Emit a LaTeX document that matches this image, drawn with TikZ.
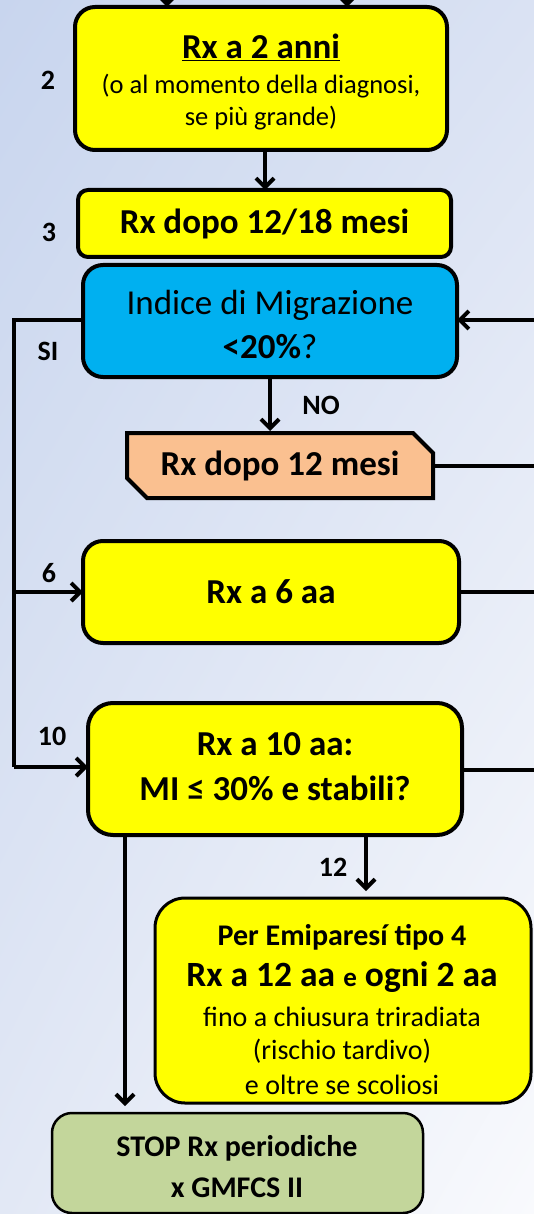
\documentclass[tikz,border=0pt]{standalone}
\usepackage{fontspec}
\setmainfont{Carlito}
\usetikzlibrary{arrows.meta,shapes.misc,calc,shadings}
\definecolor{bgUL}{RGB}{200,213,238}
\definecolor{bgUR}{RGB}{218,226,243}
\definecolor{bgLL}{RGB}{226,232,245}
\definecolor{bgLR}{RGB}{249,250,253}
\definecolor{ylw}{RGB}{255,255,0}
\definecolor{blu}{RGB}{0,176,240}
\definecolor{org}{RGB}{250,192,144}
\definecolor{grn}{RGB}{195,214,155}
\newcommand{\fsz}[1]{\fontsize{#1pt}{#1pt}\selectfont}
\tikzset{
  box/.style={draw=black, line width=4pt, rounded corners=20pt, inner sep=0pt, align=center, outer sep=0pt},
  conn/.style={draw=black, line width=4pt},
  arr/.style={conn, -{Straight Barb[length=9pt,width=18pt,line width=4pt]}},
  lbl/.style={font=\bfseries\fsz{28}, inner sep=0pt},
}
\begin{document}
\begin{tikzpicture}[x=1pt,y=-1pt]
\useasboundingbox (0,0) rectangle (534,1214);
\clip (0,0) rectangle (534,1214);
\shade[upper left=bgUL, upper right=bgUR, lower left=bgLL, lower right=bgLR] (0,0) rectangle (534,1214);

% nodes
\node[box, fill=ylw, minimum width=372pt, minimum height=143pt] (b1) at (261,78.5) {};
\node[font=\bfseries\fsz{35}, inner sep=0pt] (t1a) at (261,47) {\underline{Rx a 2 anni}};
\node[font=\fsz{26.5}, align=center, inner sep=0pt] (t1b) at (261,102) {(o al momento della diagnosi,\\[6pt] se più grande)};

\node[box, fill=ylw, rounded corners=10pt, minimum width=373pt, minimum height=67pt, font=\bfseries\fsz{35}] (b2) at (264.5,223.5) {Rx dopo 12/18 mesi};

\node[box, fill=blu, minimum width=374pt, minimum height=112pt, font=\fsz{35}] (b3) at (270,321) {};
\node[font=\fsz{35}, inner sep=0pt] (t3a) at (270,305) {Indice di Migrazione};
\node[font=\fsz{35}, inner sep=0pt] (t3b) at (270,347) {\textbf{<20\%}?};

\node[draw=black, line width=4pt, fill=org, chamfered rectangle, chamfered rectangle corners={north east,south west}, chamfered rectangle xsep=10pt, chamfered rectangle ysep=10pt, minimum width=306pt, minimum height=65pt, inner sep=0pt, font=\bfseries\fsz{35}] (b4) at (280,465.5) {Rx dopo 12 mesi};

\node[box, fill=ylw, minimum width=376pt, minimum height=102pt, font=\bfseries\fsz{35}] (b6) at (271,592) {Rx a 6 aa};

\node[box, fill=ylw, rounded corners=25pt, minimum width=374pt, minimum height=132pt] (b10) at (275,769) {};
\node[font=\bfseries\fsz{35}, inner sep=0pt] (t10a) at (275,744) {Rx a 10 aa:};
\node[font=\bfseries\fsz{35}, inner sep=0pt] (t10b) at (275,788) {MI ≤ 30\% e stabili?};

\node[box, fill=ylw, line width=3pt, rounded corners=30pt, minimum width=376pt, minimum height=205pt] (b12) at (343,1000.5) {};
\node[font=\bfseries\fsz{30}, inner sep=0pt] (t12a) at (342,937) {Per Emiparesí tipo 4};
\node[font=\bfseries\fsz{35.5}, inner sep=0pt] (t12b) at (342,977) {Rx a 12 aa {\fsz{27}e} ogni 2 aa};
\node[font=\fsz{28}, inner sep=0pt] (t12c) at (342,1017) {fino a chiusura triradiata};
\node[font=\fsz{28}, inner sep=0pt] (t12d) at (342,1051) {(rischio tardivo)};
\node[font=\fsz{28}, inner sep=0pt] (t12e) at (342,1085) {e oltre se scoliosi};

\node[box, fill=grn, line width=2.5pt, minimum width=371pt, minimum height=100pt] (stop) at (237.5,1163) {};
\node[font=\bfseries\fsz{30}, inner sep=0pt] (ts1) at (237,1148) {STOP Rx periodiche};
\node[font=\bfseries\fsz{30}, inner sep=0pt] (ts2) at (237,1188) {x GMFCS II};

% labels
\node[lbl] (l2) at (48,80) {2};
\node[lbl] (l3) at (49,232) {3};
\node[lbl] (lsi) at (48,351) {SI};
\node[lbl] (lno) at (321,405) {NO};
\node[lbl] (l6) at (49,573) {6};
\node[lbl] (l10) at (52,736) {10};
\node[lbl] (l12) at (333,867) {12};

% coordinates
\coordinate (top1) at (167,-30);
\coordinate (top2) at (347,-30);
\coordinate (m12) at (265,150);
\coordinate (R3) at (545,320);
\coordinate (R4) at (545,465.5);
\coordinate (R6) at (545,592);
\coordinate (R10) at (545,770);
\coordinate (L3) at (14,320);
\coordinate (L6) at (14,592);
\coordinate (L10) at (14,767);
\coordinate (d1) at (125,835);
\coordinate (d2) at (366,835);

% connectors
\draw[arr] (top1) -- (top1 |- b1.north);
\draw[arr] (top2) -- (top2 |- b1.north);
\draw[arr] (m12 |- b1.south) -- (m12 |- b2.north);
\draw[arr] (b3.south) -- (b3.south |- b4.north);
\draw[arr] (R3) -- (R3 -| b3.east);
\draw[conn] (b4.east) -- (R4);
\draw[conn] (b6.east) -- (R6);
\draw[conn] (R10 -| b10.east) -- (R10);
\draw[conn, line join=miter] (L3 -| b3.west) -- (L3) -- (L10);
\draw[arr] (L10) -- (L10 -| b10.west);
\draw[arr] (L6) -- (b6.west);
\draw[arr, shorten >=7pt] (d1 |- b10.south) -- (d1 |- stop.north);
\draw[arr, shorten >=7pt] (d2 |- b10.south) -- (d2 |- b12.north);
\end{tikzpicture}
\end{document}
